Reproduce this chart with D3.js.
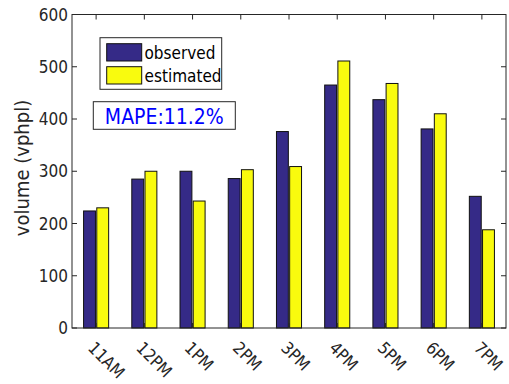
<!DOCTYPE html>
<html>
<head>
<meta charset="utf-8">
<script src="https://cdn.jsdelivr.net/npm/d3@7"></script>
<style>
  body { margin: 0; background: #fff; }
  text { font-family: "DejaVu Sans Condensed", "DejaVu Sans", sans-serif; font-stretch: condensed; fill: #262626; }
</style>
</head>
<body>
<div id="chart"></div>
<script>
// hourly volumes
const hours = ['11AM', '12PM', '1PM', '2PM', '3PM', '4PM', '5PM', '6PM', '7PM'];
const observed = [224, 285, 300, 286, 376, 465, 437, 381, 252];
const estimated = [230, 300, 243, 303, 309, 511, 468, 410, 188];
const seriesNames = ['observed', 'estimated'];
const seriesColors = ['#352a87', '#f9fb0e'];
const yTicks = [0, 100, 200, 300, 400, 500, 600];

const W = 509, H = 384;
const plotL = 72, plotR = 506, plotT = 14.5, plotB = 328;

const svg = d3.select('#chart')
  .append('svg')
  .attr('width', W)
  .attr('height', H);

const x0 = d3.scaleBand()
  .domain(hours)
  .range([plotL, plotR])
  .paddingInner(0.48)
  .paddingOuter(0.24);

const x1 = d3.scaleBand()
  .domain(seriesNames)
  .range([0, x0.bandwidth()])
  .paddingInner(0.1);

const y = d3.scaleLinear()
  .domain([0, 600])
  .range([plotB, plotT]);

const rows = hours.map((h, i) => ({ hour: h, values: [observed[i], estimated[i]] }));

// bars
const groups = svg.selectAll('g.grp')
  .data(rows)
  .enter()
  .append('g')
  .attr('class', 'grp')
  .attr('transform', d => `translate(${x0(d.hour)},0)`);

groups.selectAll('rect')
  .data(d => d.values.map((v, k) => ({ name: seriesNames[k], v: v, k: k })))
  .enter()
  .append('rect')
  .attr('x', d => x1(d.name))
  .attr('y', d => y(d.v))
  .attr('width', x1.bandwidth())
  .attr('height', d => y(0) - y(d.v))
  .attr('fill', d => seriesColors[d.k])
  .attr('stroke', '#111')
  .attr('stroke-width', 1);

// axes box
const axisColor = '#262626';
const tickLen = 5;

svg.append('rect')
  .attr('x', plotL)
  .attr('y', plotT)
  .attr('width', plotR - plotL)
  .attr('height', plotB - plotT)
  .attr('fill', 'none')
  .attr('stroke', axisColor)
  .attr('stroke-width', 1);

// y ticks (inside, both sides) + labels
yTicks.forEach(t => {
  svg.append('line')
    .attr('x1', plotL).attr('x2', plotL + tickLen)
    .attr('y1', y(t)).attr('y2', y(t))
    .attr('stroke', axisColor);
  svg.append('line')
    .attr('x1', plotR).attr('x2', plotR - tickLen)
    .attr('y1', y(t)).attr('y2', y(t))
    .attr('stroke', axisColor);
  svg.append('text')
    .attr('x', plotL - 4)
    .attr('y', y(t))
    .attr('dy', '0.36em')
    .attr('text-anchor', 'end')
    .style('font-size', '17px')
    .text(t);
});

// x ticks (inside, top and bottom) + rotated labels
hours.forEach(h => {
  const cx = x0(h) + x0.bandwidth() / 2;
  svg.append('line')
    .attr('x1', cx).attr('x2', cx)
    .attr('y1', plotB).attr('y2', plotB - tickLen)
    .attr('stroke', axisColor);
  svg.append('line')
    .attr('x1', cx).attr('x2', cx)
    .attr('y1', plotT).attr('y2', plotT + tickLen)
    .attr('stroke', axisColor);
  svg.append('text')
    .attr('transform', `translate(${cx - 9},349) rotate(45)`)
    .attr('text-anchor', 'start')
    .style('font-size', '17px')
    .text(h);
});

// y label
svg.append('text')
  .attr('transform', 'translate(29,168) rotate(-90)')
  .attr('text-anchor', 'middle')
  .style('font-size', '20px')
  .text('volume (vphpl)');

// legend
const legend = svg.append('g');
legend.append('rect')
  .attr('x', 100).attr('y', 37.7)
  .attr('width', 121.7).attr('height', 51.6)
  .attr('fill', '#fff')
  .attr('stroke', axisColor);

seriesNames.forEach((name, k) => {
  legend.append('rect')
    .attr('x', 106.7)
    .attr('y', 43.7 + k * 23)
    .attr('width', 35)
    .attr('height', 17.3)
    .attr('fill', seriesColors[k])
    .attr('stroke', '#111');
  legend.append('text')
    .attr('x', 144.5)
    .attr('y', 59.3 + k * 22.4)
    .style('font-size', '17px')
    .style('fill', '#000')
    .text(name);
});

// MAPE annotation
svg.append('rect')
  .attr('x', 93.3).attr('y', 101.7)
  .attr('width', 142).attr('height', 27.6)
  .attr('fill', '#fff')
  .attr('stroke', axisColor);

svg.append('text')
  .attr('x', 164.3)
  .attr('y', 124)
  .attr('text-anchor', 'middle')
  .style('font-size', '21px')
  .style('fill', '#0000ff')
  .text('MAPE:11.2%');
</script>
</body>
</html>
